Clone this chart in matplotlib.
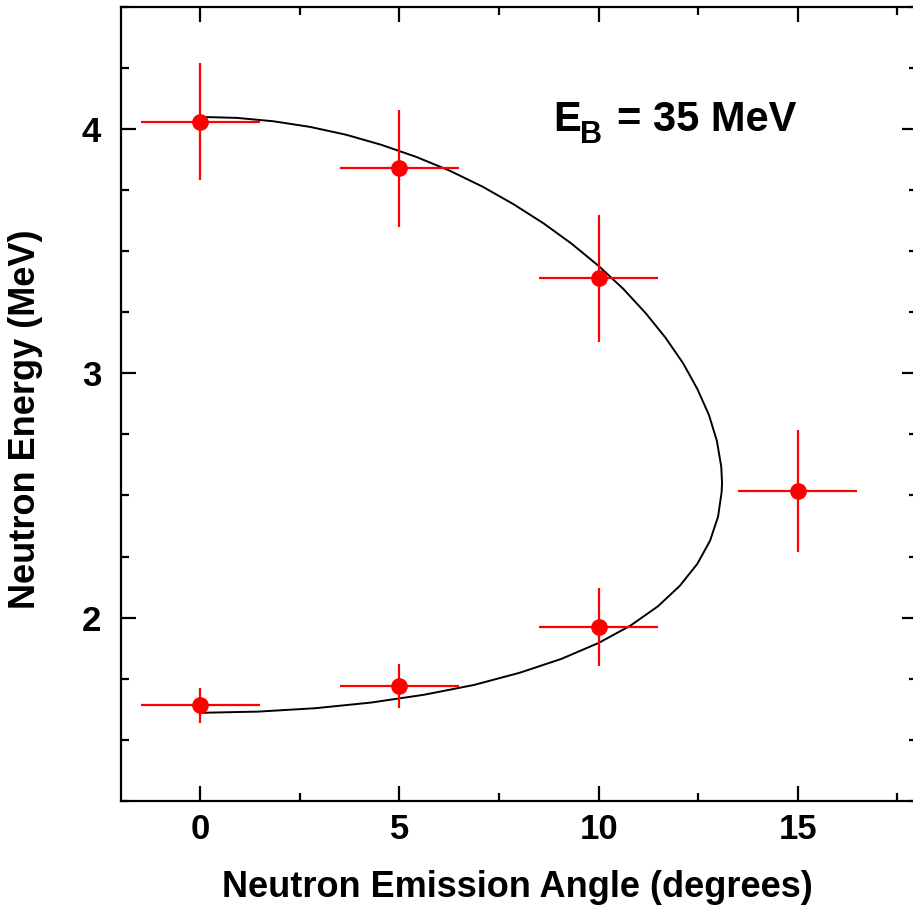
import matplotlib
matplotlib.use('Agg')
import matplotlib.pyplot as plt
from matplotlib.ticker import MultipleLocator

plt.rcParams['font.family'] = ['Liberation Sans', 'DejaVu Sans']
plt.rcParams['font.weight'] = 'bold'

# measured points
angle = [0, 5, 10, 15, 10, 5, 0]
energy = [4.03, 3.84, 3.39, 2.52, 1.96, 1.72, 1.64]
angle_err = [1.5, 1.5, 1.5, 1.5, 1.5, 1.5, 1.5]
energy_err = [0.24, 0.24, 0.26, 0.25, 0.16, 0.09, 0.07]

# kinematic curve (upper branch, tip, lower branch)
curve_angle = [0.0, 0.92, 1.84, 2.76, 3.66, 4.54, 5.41, 6.26, 7.08, 7.86,
               8.62, 9.33, 10.00, 10.62, 11.18, 11.68, 12.12, 12.48, 12.77,
               12.97, 13.08, 13.10, 13.09, 13.00, 12.80, 12.48, 12.04, 11.49,
               10.80, 10.00, 9.07, 8.02, 6.87, 5.62, 4.29, 2.90, 1.46, 0.0]
curve_energy = [4.050, 4.046, 4.032, 4.009, 3.977, 3.936, 3.887, 3.830, 3.765,
                3.693, 3.614, 3.530, 3.440, 3.346, 3.247, 3.146, 3.042, 2.936,
                2.830, 2.724, 2.618, 2.554, 2.514, 2.413, 2.315, 2.220, 2.130,
                2.046, 1.967, 1.896, 1.831, 1.774, 1.724, 1.684, 1.652, 1.629,
                1.615, 1.610]

fig = plt.figure(figsize=(9.13, 9.09), dpi=100)
ax = fig.add_axes([0.1321, 0.1191, 0.8725, 0.8732])

ax.plot(curve_angle, curve_energy, color='black', lw=1.4, zorder=2)
ax.errorbar(angle, energy, xerr=angle_err, yerr=energy_err, fmt='o',
            color='#ff0000', ms=11, elinewidth=1.6, capsize=0, zorder=3)

ax.set_xlim(-2, 18)
ax.set_ylim(1.25, 4.5)
ax.xaxis.set_major_locator(MultipleLocator(5))
ax.xaxis.set_minor_locator(MultipleLocator(2.5))
ax.yaxis.set_major_locator(MultipleLocator(1))
ax.yaxis.set_minor_locator(MultipleLocator(0.25))
ax.tick_params(which='both', direction='in', top=True, right=True, width=1.6,
               labelsize=25)
ax.tick_params(axis='x', pad=9)
ax.tick_params(axis='y', pad=14)
ax.tick_params(which='major', length=11)
ax.tick_params(which='minor', length=5.5)
for s in ax.spines.values():
    s.set_linewidth(1.6)

ax.set_xlabel('Neutron Emission Angle (degrees)', fontsize=26, fontweight='bold')
ax.xaxis.set_label_coords(0.4985, -0.087)
ax.set_ylabel('Neutron Energy (MeV)', fontsize=26, fontweight='bold')
ax.yaxis.set_label_coords(-0.098, 0.48)

# E_B = 35 MeV, subscript placed by hand
fig.text(0.6057, 0.8559, 'E', fontsize=30, fontweight='bold', va='baseline')
fig.text(0.6353, 0.8427, 'B', fontsize=22, fontweight='bold', va='baseline')
fig.text(0.6758, 0.8559, '= 35 MeV', fontsize=30, fontweight='bold', va='baseline')

fig.savefig('out.png', dpi=100)
